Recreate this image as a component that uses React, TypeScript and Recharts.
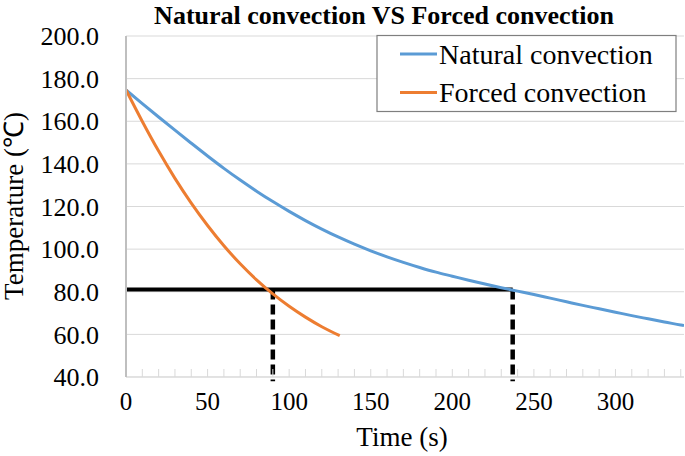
import React from 'react';
import { LineChart, Line, XAxis, YAxis, CartesianGrid, ReferenceLine } from 'recharts';

const chartTitle = 'Natural convection VS Forced convection';
const xTitle = 'Time (s)';
const yTitle = 'Temperature (℃)';
const seriesNames = ['Natural convection', 'Forced convection'];
const seriesColors = ['#5B9BD5', '#ED7D31'];

const naturalTime = [0, 10, 20, 30, 40, 50, 60, 70, 80, 90, 100, 110, 120, 130, 140, 150, 160, 170, 180, 190, 200, 210, 220, 230, 240, 250, 260, 270, 280, 290, 300, 310, 320, 330, 340, 342];
const naturalTemp = [174.7, 168.3, 162.0, 155.8, 149.7, 143.7, 137.9, 132.4, 127.2, 122.3, 117.7, 113.4, 109.4, 105.7, 102.3, 99.2, 96.4, 93.8, 91.4, 89.2, 87.3, 85.4, 83.6, 81.9, 80.3, 78.7, 77.0, 75.3, 73.6, 72.0, 70.4, 68.8, 67.3, 65.8, 64.4, 64.1];

const forcedTime = [0, 10, 20, 30, 40, 50, 60, 70, 80, 90, 100, 110, 120, 131];
const forcedTemp = [174.7, 159.9, 146.0, 133.2, 121.6, 111.1, 101.6, 93.1, 85.6, 79.0, 73.2, 68.1, 63.6, 59.4];

const xTicks = [0, 10, 20, 30, 40, 50, 60, 70, 80, 90, 100, 110, 120, 130, 140, 150, 160, 170, 180, 190, 200, 210, 220, 230, 240, 250, 260, 270, 280, 290, 300, 310, 320, 330, 340];
const xLabelStep = 50;
const yTicks = [40, 60, 80, 100, 120, 140, 160, 180, 200];

const thresholdTemp = 81;
const forcedCrossTime = 90;
const naturalCrossTime = 237;

const naturalData = naturalTime.map((t, i) => ({ t, v: naturalTemp[i] }));
const forcedData = forcedTime.map((t, i) => ({ t, v: forcedTemp[i] }));

const FONT = '"Liberation Serif", "Times New Roman", serif';

const XTick = (props: any) => {
  const { x, y, payload } = props;
  const v = payload.value;
  return (
    <g>
      {v !== 0 && <line x1={x} x2={x} y1={y} y2={y - 8} stroke="#d9d9d9" strokeWidth={1} />}
      {v % xLabelStep === 0 && (
        <text x={x} y={y + 33} textAnchor="middle" fontFamily={FONT} fontSize={25} fill="#000">
          {v}
        </text>
      )}
    </g>
  );
};

export default function App() {
  return (
    <div style={{ position: 'absolute', left: 0, top: 0, width: 685, height: 456, background: '#fff' }}>
      <LineChart width={685} height={456} margin={{ top: 36, right: 1, bottom: 0, left: 0 }}>
        <CartesianGrid horizontal vertical={false} stroke="#d9d9d9" strokeWidth={1} />
        <XAxis
          type="number"
          dataKey="t"
          domain={[0, 342]}
          ticks={xTicks}
          interval={0}
          allowDataOverflow
          height={79}
          tickSize={0}
          tickMargin={0}
          tickLine={false}
          axisLine={{ stroke: '#d9d9d9', strokeWidth: 1 }}
          tick={<XTick />}
        />
        <YAxis
          type="number"
          domain={[40, 200]}
          ticks={yTicks}
          interval={0}
          width={126}
          tickLine={false}
          tickMargin={21}
          axisLine={{ stroke: '#bfbfbf', strokeWidth: 2 }}
          tickFormatter={(v: number) => v.toFixed(1)}
          tick={{ fontFamily: FONT, fontSize: 26, fill: '#000' }}
        />
        <ReferenceLine
          segment={[{ x: 0, y: thresholdTemp }, { x: naturalCrossTime, y: thresholdTemp }]}
          stroke="#000"
          strokeWidth={4}
          ifOverflow="visible"
        />
        <ReferenceLine
          segment={[{ x: forcedCrossTime, y: thresholdTemp }, { x: forcedCrossTime, y: 38 }]}
          stroke="#000"
          strokeWidth={4.5}
          strokeDasharray="10 5"
          ifOverflow="visible"
        />
        <ReferenceLine
          segment={[{ x: naturalCrossTime, y: thresholdTemp }, { x: naturalCrossTime, y: 38 }]}
          stroke="#000"
          strokeWidth={4.5}
          strokeDasharray="10 5"
          ifOverflow="visible"
        />
        <Line
          data={naturalData}
          dataKey="v"
          name={seriesNames[0]}
          type="monotone"
          stroke={seriesColors[0]}
          strokeWidth={3}
          dot={false}
          isAnimationActive={false}
        />
        <Line
          data={forcedData}
          dataKey="v"
          name={seriesNames[1]}
          type="monotone"
          stroke={seriesColors[1]}
          strokeWidth={3}
          dot={false}
          isAnimationActive={false}
        />
      </LineChart>
      <svg width={685} height={456} style={{ position: 'absolute', left: 0, top: 0, pointerEvents: 'none' }}>
        <text x={384} y={24} textAnchor="middle" fontFamily={FONT} fontWeight="bold" fontSize={26} fill="#000">
          {chartTitle}
        </text>
        <text x={402} y={446} textAnchor="middle" fontFamily={FONT} fontSize={27} fill="#000">
          {xTitle}
        </text>
        <text
          x={23}
          y={206}
          textAnchor="middle"
          fontFamily={FONT}
          fontSize={27}
          fill="#000"
          transform="rotate(-90 23 206)"
        >
          {yTitle}
        </text>
        <rect x={377} y={35.5} width={299} height={76} fill="#fff" stroke="#7f7f7f" strokeWidth={1.2} />
        {seriesNames.map((name, i) => (
          <g key={name}>
            <line x1={400} x2={437} y1={54 + i * 38.5} y2={54 + i * 38.5} stroke={seriesColors[i]} strokeWidth={3} />
            <text x={439} y={63.5 + i * 38.5} fontFamily={FONT} fontSize={28} fill="#000">
              {name}
            </text>
          </g>
        ))}
      </svg>
    </div>
  );
}
